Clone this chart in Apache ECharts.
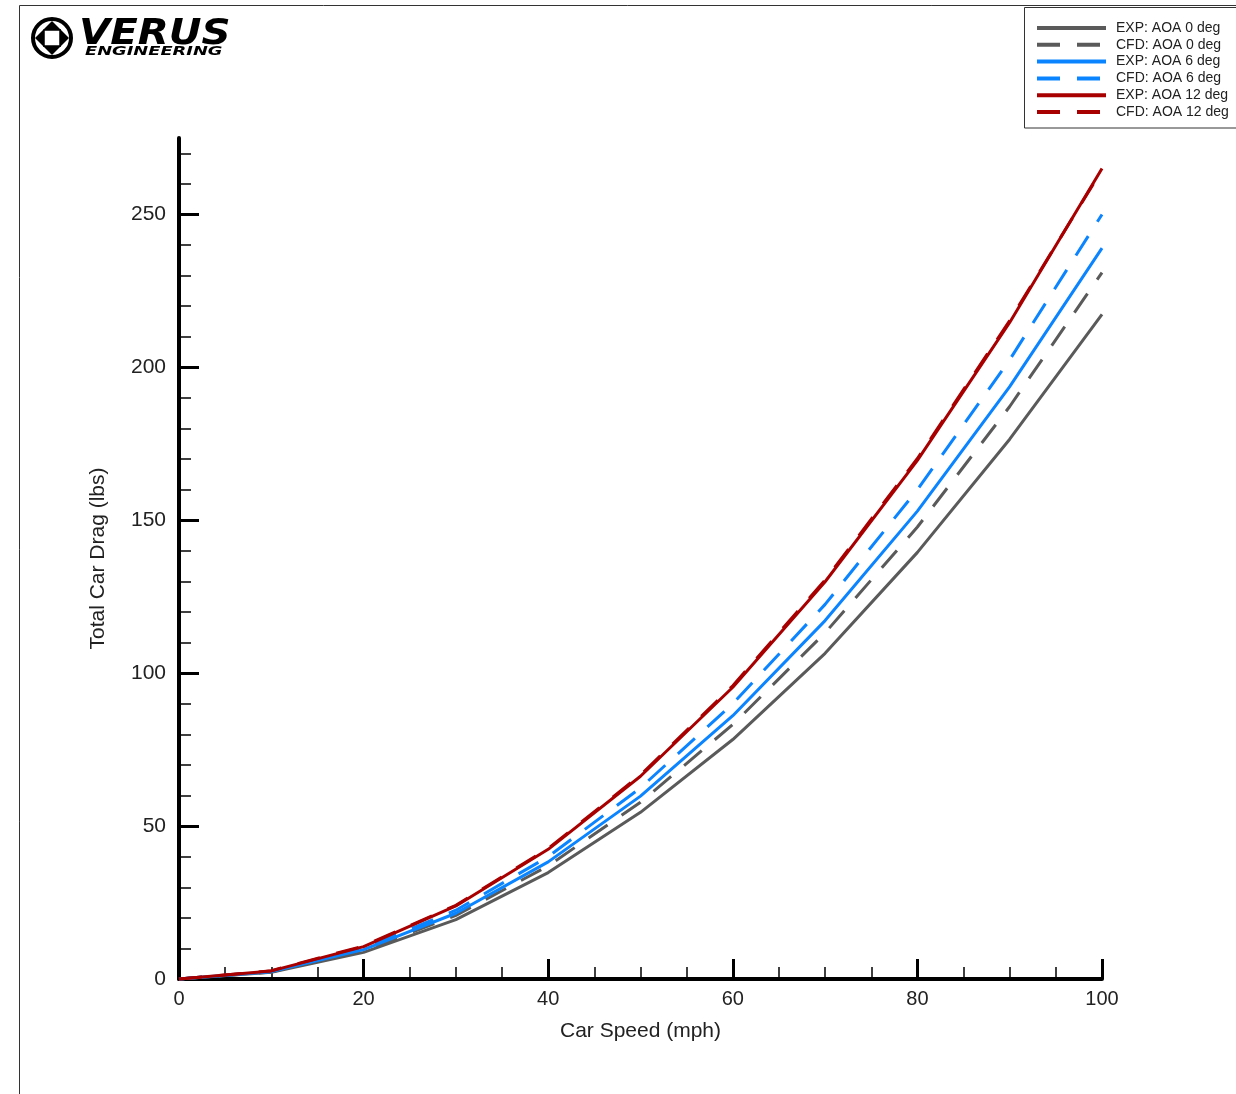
<!DOCTYPE html>
<html>
<head>
<meta charset="utf-8">
<script src="https://cdn.jsdelivr.net/npm/echarts@6/dist/echarts.min.js"></script>
<style>
html,body{margin:0;padding:0;background:#fff;}
#chart{width:1236px;height:1094px;}
</style>
</head>
<body>
<div id="chart"></div>
<script>
// Car speed (mph)
const speeds = [0, 10, 20, 30, 40, 50, 60, 70, 80, 90, 100];
// Total car drag (lbs)
const expAoa0  = [0, 2.2, 8.7, 19.4, 34.8, 54.5, 78.3, 106.5, 139.5, 176.5, 217.3];
const cfdAoa0  = [0, 2.3, 9.2, 20.8, 37.0, 57.8, 83.2, 113.2, 147.8, 187.2, 231.0];
const expAoa6  = [0, 2.4, 9.6, 21.5, 38.3, 59.8, 86.1, 117.2, 153.0, 193.7, 239.0];
const cfdAoa6  = [0, 2.5, 10.0, 22.5, 40.0, 62.5, 90.0, 122.5, 160.0, 202.5, 250.0];
const expAoa12 = [0, 2.65, 10.6, 23.9, 42.4, 66.3, 95.4, 129.9, 169.6, 214.7, 265.0];
const cfdAoa12 = [0, 2.7, 10.8, 24.1, 42.7, 66.7, 95.9, 130.5, 170.2, 215.3, 264.6];

const seriesNames = ['EXP: AOA 0 deg', 'CFD: AOA 0 deg', 'EXP: AOA 6 deg', 'CFD: AOA 6 deg', 'EXP: AOA 12 deg', 'CFD: AOA 12 deg'];
const seriesData = [expAoa0, cfdAoa0, expAoa6, cfdAoa6, expAoa12, cfdAoa12];

const yMajorTicks = [0, 50, 100, 150, 200, 250];
const yMinorTicks = [10, 20, 30, 40, 60, 70, 80, 90, 110, 120, 130, 140, 160, 170, 180, 190, 210, 220, 230, 240, 260, 270];

const colors = ['#5a5a5a', '#5a5a5a', '#0a84ff', '#0a84ff', '#a80000', '#a80000'];
const dashed = [false, true, false, true, false, true];
const zOrder = [2, 3, 4, 5, 7, 6];

const chart = echarts.init(document.getElementById('chart'), null, {renderer: 'canvas'});

const font = 'Liberation Sans, Arial, sans-serif';
const axisCommon = {
  axisLine: {show: true, onZero: false, lineStyle: {color: '#000', width: 4}},
  splitLine: {show: false}
};

const option = {
  backgroundColor: '#fff',
  animation: false,
  grid: {left: 179, right: 134, top: 138, bottom: 115, containLabel: false},
  legend: {
    orient: 'vertical',
    left: 1035,
    top: 21,
    itemWidth: 69,
    itemHeight: 8,
    itemGap: 2.8,
    padding: 0,
    itemStyle: {opacity: 0},
    lineStyle: {width: 4},
    textStyle: {fontFamily: font, fontSize: 14, color: '#222', padding: [0, 0, 0, 5]},
    data: seriesNames,
    selectedMode: false,
    z: 20
  },
  xAxis: {
    type: 'value',
    min: 0, max: 100, interval: 20,
    name: 'Car Speed (mph)',
    nameLocation: 'middle',
    nameGap: 42,
    nameTextStyle: {fontFamily: font, fontSize: 21, color: '#222'},
    ...axisCommon,
    axisTick: {show: true, inside: true, length: 20, lineStyle: {color: '#000', width: 3}},
    minorTick: {show: true, splitNumber: 4, length: 12, lineStyle: {color: '#000', width: 1.5}},
    axisLabel: {fontFamily: font, fontSize: 20, color: '#222', margin: 10}
  },
  yAxis: [{
    type: 'value',
    min: 0, max: 275,
    name: 'Total Car Drag (lbs)',
    nameLocation: 'middle',
    nameGap: 70,
    nameRotate: 90,
    nameTextStyle: {fontFamily: font, fontSize: 21, color: '#222'},
    ...axisCommon,
    axisTick: {show: true, inside: true, length: 20, customValues: yMajorTicks, lineStyle: {color: '#000', width: 3}},
    axisLabel: {fontFamily: font, fontSize: 21, color: '#222', margin: 13, customValues: yMajorTicks}
  }, {
    type: 'value',
    min: 0, max: 275,
    position: 'left',
    offset: 0,
    axisLine: {show: false},
    splitLine: {show: false},
    axisTick: {show: true, inside: true, length: 12, customValues: yMinorTicks, lineStyle: {color: '#000', width: 1.5}},
    axisLabel: {show: false}
  }],
  series: seriesNames.map((name, i) => ({
    name: name,
    type: 'line',
    yAxisIndex: 0,
    data: speeds.map((s, j) => [s, seriesData[i][j]]),
    showSymbol: false,
    symbol: 'none',
    clip: false,
    z: zOrder[i],
    lineStyle: {
      color: colors[i],
      width: 3,
      type: dashed[i] ? [23, 17] : 'solid',
      cap: 'butt'
    },
    itemStyle: {color: colors[i]},
    emphasis: {disabled: true}
  })),
  graphic: [
    // page frame
    {type: 'line', shape: {x1: 19.5, y1: 5.5, x2: 19.5, y2: 1094}, style: {stroke: '#333', lineWidth: 1}, z: 1},
    {type: 'line', shape: {x1: 19.5, y1: 5.5, x2: 1236, y2: 5.5}, style: {stroke: '#333', lineWidth: 1}, z: 1},
    // legend box
    {type: 'rect', shape: {x: 1024.5, y: 7.5, width: 230, height: 120.5}, style: {fill: '#fff', stroke: '#333', lineWidth: 1}, z: 5},
    // logo icon
    {type: 'group', x: 52, y: 38, z: 10, children: [
      {type: 'circle', shape: {cx: 0, cy: 0, r: 19}, style: {fill: '#fff', stroke: '#000', lineWidth: 4}},
      {type: 'polygon', shape: {points: [[0, -17], [-9, -8], [9, -8]]}, style: {fill: '#000'}},
      {type: 'polygon', shape: {points: [[0, 17], [-9, 8], [9, 8]]}, style: {fill: '#000'}},
      {type: 'polygon', shape: {points: [[-17, 0], [-8, -9], [-8, 9]]}, style: {fill: '#000'}},
      {type: 'polygon', shape: {points: [[17, 0], [8, -9], [8, 9]]}, style: {fill: '#000'}},
      {type: 'polyline', shape: {points: [[-8, -8], [8, -8], [8, 8], [-8, 8], [-8, -8]]}, style: {stroke: '#000', lineWidth: 1.5, fill: null}}
    ]},
    {type: 'text', x: 79, y: 17, z: 10, scaleX: 1.12,
      style: {text: 'VERUS', font: 'italic bold 36px "DejaVu Sans", sans-serif', fill: '#000'}},
    {type: 'text', x: 85, y: 45, z: 10, scaleX: 1.37,
      style: {text: 'ENGINEERING', font: 'italic bold 13px "DejaVu Sans", sans-serif', fill: '#000'}}
  ]
};

chart.setOption(option);
</script>
</body>
</html>
